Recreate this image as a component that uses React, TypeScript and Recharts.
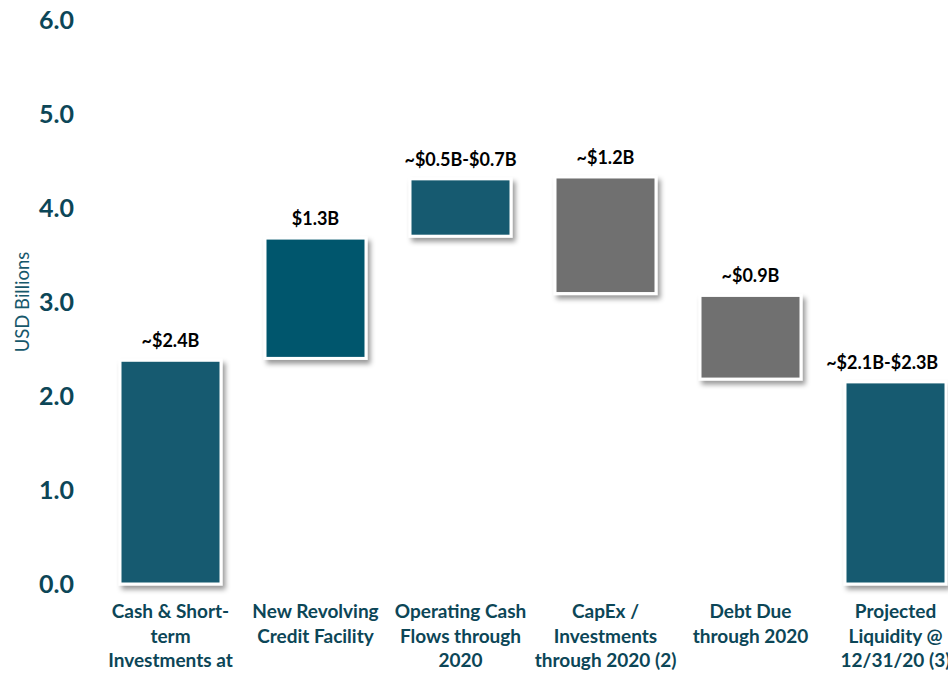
import { Bar, BarChart, Cell, LabelList, XAxis, YAxis } from "recharts";

const categories = [
  ["Cash & Short-", "term", "Investments at"],
  ["New Revolving", "Credit Facility"],
  ["Operating Cash", "Flows through", "2020"],
  ["CapEx /", "Investments", "through 2020 (2)"],
  ["Debt Due", "through 2020"],
  ["Projected", "Liquidity @", "12/31/20 (3)"],
];
const bases = [0, 2.4, 3.7, 3.09, 2.18, 0];
const amounts = [2.38, 1.28, 0.61, 1.24, 0.89, 2.15];
const valueLabels = ["~$2.4B", "$1.3B", "~$0.5B-$0.7B", "~$1.2B", "~$0.9B", "~$2.1B-$2.3B"];
const barColors = ["#155A6F", "#03566D", "#155A6F", "#707070", "#707070", "#155A6F"];
const yTicks = [0, 1, 2, 3, 4, 5, 6];

const FONT = "Lato, 'Open Sans', sans-serif";
const TEAL = "#0C4657";

const data = categories.map((c, i) => ({
  name: c.join(" "),
  base: bases[i],
  amount: amounts[i],
  label: valueLabels[i],
}));

function XTick(props: any) {
  const { x, y, payload } = props;
  const lines = categories[payload.index] || [];
  return (
    <text x={x} y={y + 34} textAnchor="middle" fill={TEAL} fontFamily={FONT} fontWeight={700} fontSize={19}>
      {lines.map((l, i) => (
        <tspan key={i} x={x} dy={i === 0 ? 0 : 24.5}>{l}</tspan>
      ))}
    </text>
  );
}

function BarShape(props: any) {
  const { x, y, width, height, index } = props;
  return (
    <rect x={x} y={y} width={width} height={height} fill={barColors[index]} stroke="#fff" strokeWidth={3} filter="url(#shadow)" />
  );
}

function ValueLabel(props: any) {
  const { x, y, width, value } = props;
  let cx = x + width / 2;
  const est = String(value).length * 10.3;
  if (cx + est / 2 > 944) cx = 944 - est / 2;
  return (
    <text x={cx} y={y - 13} textAnchor="middle" fill="#000" fontFamily={FONT} fontWeight={700} fontSize={18}>
      {value}
    </text>
  );
}

function YLabel(props: any) {
  const { viewBox } = props;
  const cx = viewBox.x + 14;
  const cy = viewBox.y + viewBox.height / 2;
  return (
    <text x={cx} y={cy} transform={`rotate(-90 ${cx} ${cy})`} textAnchor="middle" dominantBaseline="central" fill="#17586B" fontFamily={FONT} fontSize={18.5}>
      USD Billions
    </text>
  );
}

export default function App() {
  return (
    <div style={{ position: "fixed", left: 0, top: 0, width: 948, height: 674, overflow: "hidden", background: "#fff" }}>
      <BarChart width={988} height={674} data={data} margin={{ top: 20, right: 20, bottom: 0, left: 8 }}>
        <defs>
          <filter id="shadow" x="-20%" y="-20%" width="150%" height="150%">
            <feDropShadow dx={3} dy={4} stdDeviation={2.5} floodColor="#000" floodOpacity={0.4} />
          </filter>
        </defs>
        <XAxis dataKey="name" axisLine={false} tickLine={false} tickSize={0} tickMargin={0} height={90} interval={0} tick={<XTick />} />
        <YAxis
          domain={[0, 6]}
          ticks={yTicks}
          tickFormatter={(v: number) => v.toFixed(1)}
          axisLine={false}
          tickLine={false}
          tickSize={0}
          tickMargin={24}
          width={90}
          tick={{ fill: TEAL, fontFamily: FONT, fontWeight: 700, fontSize: 25 }}
          label={<YLabel />}
        />
        <Bar dataKey="base" stackId="w" fill="transparent" barSize={101} isAnimationActive={false} />
        <Bar dataKey="amount" stackId="w" barSize={101} shape={<BarShape />} isAnimationActive={false}>
          {data.map((_, i) => (
            <Cell key={i} fill={barColors[i]} />
          ))}
          <LabelList dataKey="label" content={<ValueLabel />} />
        </Bar>
      </BarChart>
    </div>
  );
}
